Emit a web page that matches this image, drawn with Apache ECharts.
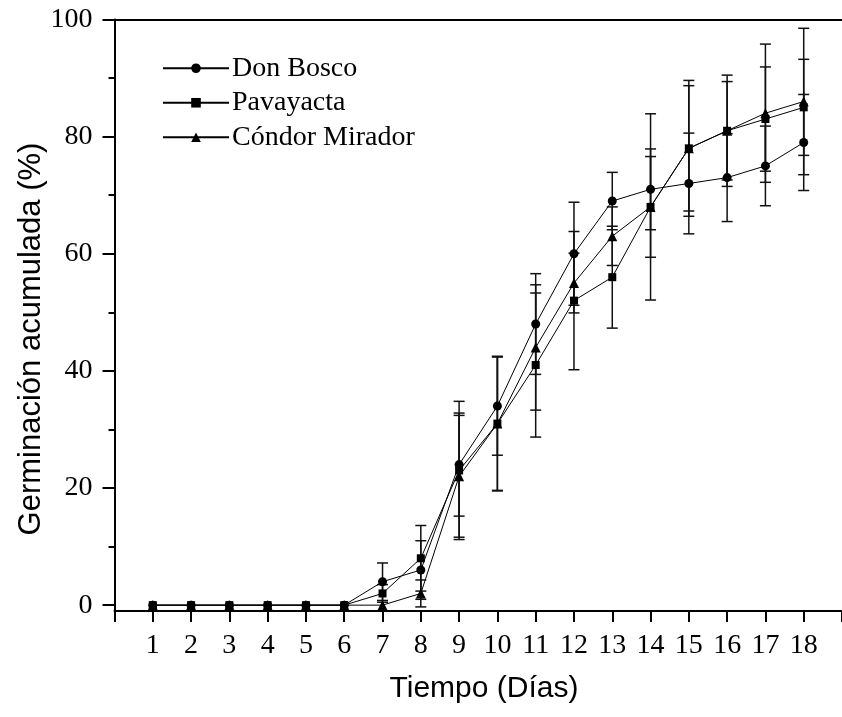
<!DOCTYPE html>
<html>
<head>
<meta charset="utf-8">
<script src="https://cdn.jsdelivr.net/npm/echarts@6/dist/echarts.min.js"></script>
<style>html,body{margin:0;padding:0;background:#fff}#c{width:842px;height:717px}</style>
</head>
<body>
<div id="c"></div>
<script>
const days = [1,2,3,4,5,6,7,8,9,10,11,12,13,14,15,16,17,18];
const yTicks = [0,20,40,60,80,100];
const yMinorTicks = [10,30,50,70,90];
const seriesNames = ['Don Bosco','Pavayacta','Cóndor Mirador'];
const xTitle = 'Tiempo (Días)';
const yTitle = 'Germinación acumulada (%)';
const donBosco     = [0,0,0,0,0,0,4,6,24,34,48,60,69,71,72,73,75,79];
const donBoscoErr  = [0,0,0,0,0,0,3.2,5,8.8,8.4,8.6,8.8,4.9,6.9,8.6,7.5,6.8,8.2];
const pavayacta    = [0,0,0,0,0,0,2,8,23,31,41,52,56,68,78,81,83,85];
const pavayactaErr = [0,0,0,0,0,0,1.5,5.6,11.8,11.5,12.3,11.8,8.7,15.9,11.6,9.5,8.9,8.2];
const condor       = [0,0,0,0,0,0,0,2,22,31,44,55,63,68,78,81,84,86];
const condorErr    = [0,0,0,0,0,0,0,2.3,10.4,11.4,10.7,5.1,5,8.6,10.7,8.4,11.8,12.5];

const SERIF = 'Liberation Serif, Times New Roman, serif';
const SANS = 'Liberation Sans, Arial, sans-serif';

function errData(means, errs) {
  const out = [];
  days.forEach((d, i) => { if (errs[i] > 0) out.push([d, means[i] - errs[i], means[i] + errs[i]]); });
  return out;
}
function errSeries(means, errs) {
  return {
    type: 'custom',
    data: errData(means, errs),
    encode: { x: 0, y: [1, 2] },
    silent: true,
    z: 1,
    renderItem: function (params, api) {
      const x = api.value(0);
      const lo = api.coord([x, api.value(1)]);
      const hi = api.coord([x, api.value(2)]);
      const hw = 5.5;
      const st = { stroke: '#111', lineWidth: 1.5 };
      return {
        type: 'group',
        children: [
          { type: 'line', shape: { x1: lo[0], y1: lo[1], x2: hi[0], y2: hi[1] }, style: st },
          { type: 'line', shape: { x1: lo[0] - hw, y1: lo[1], x2: lo[0] + hw, y2: lo[1] }, style: st },
          { type: 'line', shape: { x1: hi[0] - hw, y1: hi[1], x2: hi[0] + hw, y2: hi[1] }, style: st }
        ]
      };
    }
  };
}
function lineSeries(name, values, symbol, size) {
  return {
    name: name,
    type: 'line',
    data: days.map((d, i) => [d, values[i]]),
    symbol: symbol,
    symbolSize: size,
    showAllSymbol: true,
    z: 3,
    lineStyle: { color: '#000', width: 1 },
    itemStyle: { color: '#000' },
    emphasis: { disabled: true }
  };
}

const chart = echarts.init(document.getElementById('c'), null, { renderer: 'canvas' });
chart.setOption({
  animation: false,
  backgroundColor: '#fff',
  grid: { left: 114.5, top: 19.5, width: 737, height: 591.5, containLabel: false },
  legend: {
    orient: 'vertical',
    left: 162, top: 51,
    padding: 0,
    itemGap: 0,
    itemWidth: 66,
    itemHeight: 12,
    data: seriesNames,
    textStyle: { fontFamily: SERIF, fontSize: 28, color: '#000', lineHeight: 34.5, padding: [0, 0, 0, -2] }
  },
  graphic: [{
    type: 'text',
    x: 31, y: 339,
    rotation: Math.PI / 2,
    style: { text: yTitle, fontFamily: SANS, fontSize: 31, fill: '#000', align: 'center', verticalAlign: 'middle' }
  }, {
    type: 'text',
    x: 484, y: 689,
    style: { text: xTitle, fontFamily: SANS, fontSize: 30, fill: '#000', align: 'center', verticalAlign: 'middle' }
  }],
  xAxis: [{
    type: 'value', min: 0, max: 19, interval: 1,
    axisLine: { show: true, onZero: false, lineStyle: { color: '#000', width: 2 } },
    axisTick: { show: true, inside: false, length: 11, lineStyle: { color: '#000', width: 2 } },
    axisLabel: { customValues: days, margin: 21, fontFamily: SERIF, fontSize: 28, color: '#000' },
    splitLine: { show: false }
  }, {
    type: 'value', min: 0, max: 19, position: 'top',
    axisLine: { show: true, onZero: false, lineStyle: { color: '#000', width: 2 } },
    axisTick: { show: false }, axisLabel: { show: false }, splitLine: { show: false }
  }],
  yAxis: [{
    type: 'value', min: -1, max: 100,
    axisLine: { show: true, onZero: false, lineStyle: { color: '#000', width: 2 } },
    axisTick: { show: true, customValues: yTicks, length: 12, lineStyle: { color: '#000', width: 2 } },
    axisLabel: { customValues: yTicks, margin: 22, fontFamily: SERIF, fontSize: 28, color: '#000' },
    splitLine: { show: false }
  }, {
    type: 'value', min: -1, max: 100, position: 'left',
    axisLine: { show: false },
    axisTick: { show: true, customValues: yMinorTicks, length: 6, lineStyle: { color: '#000', width: 2 } },
    axisLabel: { show: false }, splitLine: { show: false }
  }],
  series: [
    errSeries(donBosco, donBoscoErr),
    errSeries(pavayacta, pavayactaErr),
    errSeries(condor, condorErr),
    lineSeries(seriesNames[0], donBosco, 'circle', 9),
    lineSeries(seriesNames[1], pavayacta, 'rect', 8),
    lineSeries(seriesNames[2], condor, 'triangle', 10)
  ]
});
</script>
</body>
</html>
